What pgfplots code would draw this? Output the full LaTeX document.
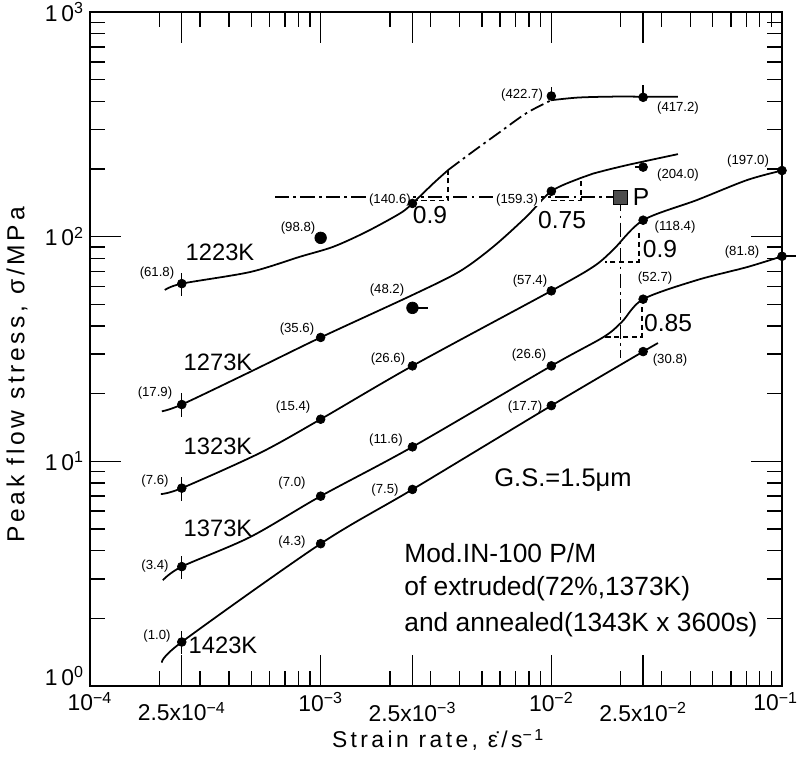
\documentclass[border=0pt]{standalone}
\usepackage{fontspec}
\setmainfont{Liberation Sans}
\newfontfamily\spaced[LetterSpace=15]{Liberation Sans}
\usepackage{pgfplots}
\pgfplotsset{compat=1.18}
\tikzset{
  val/.style={font=\fontsize{7.5}{9}\selectfont, inner sep=0pt},
  temp/.style={font=\fontsize{13.5}{16}\selectfont, inner sep=0pt},
  slope/.style={font=\fontsize{14}{16}\selectfont, inner sep=0pt},
  note/.style={font=\fontsize{15}{18}\selectfont, inner sep=0pt, anchor=west},
}
\begin{document}
\begin{tikzpicture}
\begin{axis}[
  xmode=log, ymode=log,
  scale only axis, width=13.84cm, height=13.48cm,
  at={(0,0)}, anchor=south west,
  xmin=1e-4, xmax=1e-1, ymin=1, ymax=1000,
  clip=false,
  axis line style={line width=1.3pt},
  every tick/.style={black, line width=0.8pt},
  major tick length=0.62cm, minor tick length=0.3cm,
  xtick={1e-4,1e-3,1e-2,1e-1},
  xticklabels={10\textsuperscript{−4},10\textsuperscript{−3},10\textsuperscript{−2},\hspace*{-0.25cm}10\textsuperscript{−1}},
  extra x ticks={2.5e-4,2.5e-3,2.5e-2},
  extra x tick labels={2.5x10\textsuperscript{−4},2.5x10\textsuperscript{−3},2.5x10\textsuperscript{−2}},
  extra x tick style={tick label style={yshift=-0.2cm}},
  ytick={1,10,100,1000},
  yticklabels={,1\,0\textsuperscript{1},1\,0\textsuperscript{2},1\,0\textsuperscript{3}},
  extra y ticks={1},
  extra y tick labels={1\,0\textsuperscript{0}},
  extra y tick style={tick label style={yshift=0.2cm}},
  tick label style={font=\fontsize{13}{15}\selectfont},
  xlabel={Strain rate, ε̇/s\textsuperscript{−1}},
  ylabel={Peak flow stress, σ/MPa},
  xlabel style={at={(axis description cs:0.503,-0.080)}, anchor=center, font=\spaced\fontsize{13}{15}\selectfont},
  ylabel style={at={(axis description cs:-0.1055,0.4614)}, anchor=center, font=\spaced\fontsize{14}{16}\selectfont},
]
% curves
\addplot[black, line width=1pt, smooth, tension=0.5] coordinates {
  (2.11e-4,57.9) (2.5e-4,61.8) (4.94e-4,69.6) (8.13e-4,81.4) (1.135e-3,90.2) (1.58e-3,105.2) (2.21e-3,127) (2.5e-3,140.6) (3.08e-3,172.7) (3.57e-3,198)};
\addplot[black, line width=1pt, smooth, tension=0.5, dash pattern=on 8pt off 2.5pt on 1.5pt off 2.5pt] coordinates {
  (3.57e-3,198) (4.59e-3,240) (5.98e-3,292) (7.81e-3,355) (1e-2,405)};
\addplot[black, line width=1pt, smooth, tension=0.5] coordinates {
  (1e-2,405) (1.3e-2,416) (1.8e-2,420) (2.5e-2,420) (3.54e-2,420)};
\addplot[black, line width=1pt, smooth, tension=0.5] coordinates {
  (2.05e-4,16.7) (2.5e-4,17.9) (4.94e-4,25.0) (1e-3,35.6) (2.5e-3,55) (4e-3,70) (5.6e-3,90.2) (7.8e-3,122.7) (1e-2,159.3) (1.33e-2,182) (1.52e-2,191) (2.12e-2,208) (3.54e-2,233)};
\addplot[black, line width=1pt, smooth, tension=0.5] coordinates {
  (2.03e-4,7.15) (2.5e-4,7.6) (5.46e-4,10.9) (1e-3,15.4) (2.5e-3,26.6) (1e-2,57.4) (1.52e-2,73.5) (1.85e-2,87.2) (2.5e-2,118.4) (4.28e-2,145.6) (7.05e-2,178.6) (0.1,197)};
\addplot[black, line width=1pt, smooth, tension=0.5] coordinates {
  (2.07e-4,2.96) (2.5e-4,3.4) (4.94e-4,4.6) (1e-3,7.0) (2.5e-3,11.6) (1e-2,26.6) (1.68e-2,35.7) (2.02e-2,41.7) (2.5e-2,52.7) (4.28e-2,64.1) (7.05e-2,73.2) (0.1,81.8)};
\addplot[black, line width=1pt, smooth, tension=0.5] coordinates {
  (2.05e-4,1.27) (2.5e-4,1.57) (1e-3,4.3) (2.5e-3,7.5) (1e-2,17.7) (2.5e-2,30.8) (2.9e-2,33.6)};
% guide lines
\addplot[black, line width=0.8pt, dash pattern=on 8pt off 2.5pt on 1.5pt off 2.5pt] coordinates {(6.34e-4,150) (2e-2,150)};
\addplot[black, line width=0.8pt, dash pattern=on 8pt off 2.5pt on 1.5pt off 2.5pt] coordinates {(2e-2,150) (2e-2,28.8)};
\addplot[black, line width=0.8pt, densely dashed] coordinates {(2.5e-3,145) (3.57e-3,145) (3.57e-3,198)};
\addplot[black, line width=0.8pt, densely dashed] coordinates {(1e-2,145) (1.343e-2,145) (1.343e-2,180)};
\addplot[black, line width=0.8pt, densely dashed] coordinates {(0.024,103.8) (0.024,77.1) (0.01706,77.1)};
\addplot[black, line width=0.8pt, densely dashed] coordinates {(0.0247,48.6) (0.0247,35.7) (0.01676,35.7)};
% short tails
\addplot[black, line width=0.9pt] coordinates {(2.5e-3,48.2) (2.92e-3,48.2)};
\addplot[black, line width=0.9pt] coordinates {(2.3e-2,204.0) (2.5e-2,204.0)};
\addplot[black, line width=0.9pt] coordinates {(0.1,81.8) (0.115,81.8)};
% points
\addplot[only marks, mark=*, mark size=2.5pt, black,
  error bars/.cd, y dir=both, y explicit relative, error mark=none,
  error bar style={line width=0.8pt}] coordinates {
  (2.5e-4,61.8) +- (0,0.12) (2.5e-4,17.9) +- (0,0.12) (2.5e-4,7.6) +- (0,0.12)
  (2.5e-4,3.4) +- (0,0.12) (2.5e-4,1.57) +- (0,0.12)};
\addplot[only marks, mark=*, mark size=2.5pt, black,
  error bars/.cd, y dir=plus, y explicit relative, error mark=none,
  error bar style={line width=0.8pt}] coordinates {
  (1e-2,422.7) +- (0,0.1) (2.5e-2,417.2) +- (0,0.14)};
\addplot[only marks, mark=*, mark size=2.5pt, black] coordinates {
  (2.5e-3,140.6) (1e-2,159.3) (2.5e-2,204.0) (1e-3,35.6)
  (1e-3,15.4) (2.5e-3,26.6) (1e-2,57.4) (2.5e-2,118.4) (0.1,197.0)
  (1e-3,7.0) (2.5e-3,11.6) (1e-2,26.6) (2.5e-2,52.7) (0.1,81.8)
  (1e-3,4.3) (2.5e-3,7.5) (1e-2,17.7) (2.5e-2,30.8)};
\addplot[only marks, mark=*, mark size=3.3pt, black] coordinates {(1e-3,98.8) (2.5e-3,48.2)};
\addplot[only marks, mark=square*, mark size=4pt, mark options={fill=black!70, draw=black}] coordinates {(2e-2,150)};
% value labels
\node[val] at (rel axis cs:0.0968,0.6128) {(61.8)};
\node[val] at (rel axis cs:0.3006,0.6795) {(98.8)};
\node[val, fill=white, inner xsep=1.5pt] at (rel axis cs:0.4335,0.7211) {(140.6)};
\node[val] at (rel axis cs:0.6243,0.8769) {(422.7)};
\node[val] at (rel axis cs:0.8497,0.8576) {(417.2)};
\node[val, fill=white, inner xsep=1.5pt] at (rel axis cs:0.6171,0.7211) {(159.3)};
\node[val] at (rel axis cs:0.8497,0.7582) {(204.0)};
\node[val] at (rel axis cs:0.9509,0.7789) {(197.0)};
\node[val] at (rel axis cs:0.8454,0.6810) {(118.4)};
\node[val] at (rel axis cs:0.9422,0.6439) {(81.8)};
\node[val] at (rel axis cs:0.8165,0.6053) {(52.7)};
\node[val] at (rel axis cs:0.6358,0.6009) {(57.4)};
\node[val] at (rel axis cs:0.4292,0.5875) {(48.2)};
\node[val] at (rel axis cs:0.2991,0.5297) {(35.6)};
\node[val] at (rel axis cs:0.4306,0.4852) {(26.6)};
\node[val] at (rel axis cs:0.0939,0.4347) {(17.9)};
\node[val] at (rel axis cs:0.2934,0.4139) {(15.4)};
\node[val] at (rel axis cs:0.4277,0.3650) {(11.6)};
\node[val] at (rel axis cs:0.0939,0.3042) {(7.6)};
\node[val] at (rel axis cs:0.2919,0.3012) {(7.0)};
\node[val] at (rel axis cs:0.4263,0.2908) {(7.5)};
\node[val] at (rel axis cs:0.2919,0.2136) {(4.3)};
\node[val] at (rel axis cs:0.0939,0.1780) {(3.4)};
\node[val] at (rel axis cs:0.6344,0.4911) {(26.6)};
\node[val] at (rel axis cs:0.6286,0.4139) {(17.7)};
\node[val] at (rel axis cs:0.8382,0.4837) {(30.8)};
\node[val] at (rel axis cs:0.0968,0.0742) {(1.0)};
% temperature labels
\node[temp] at (rel axis cs:0.1879,0.6439) {1223K};
\node[temp] at (rel axis cs:0.1850,0.4807) {1273K};
\node[temp] at (rel axis cs:0.1850,0.3561) {1323K};
\node[temp] at (rel axis cs:0.1850,0.2344) {1373K};
\node[temp] at (rel axis cs:0.1922,0.0608) {1423K};
% slopes
\node[slope] at (rel axis cs:0.4913,0.6990) {0.9};
\node[slope] at (rel axis cs:0.6821,0.6914) {0.75};
\node[slope] at (rel axis cs:0.8237,0.6484) {0.9};
\node[slope] at (rel axis cs:0.8353,0.5386) {0.85};
\node[slope] at (rel axis cs:0.7962,0.7255) {P};
% notes
\node[font=\fontsize{14.5}{17}\selectfont, inner sep=0pt] at (rel axis cs:0.6835,0.3056) {G.S.=1.5μm};
\node[note] at (rel axis cs:0.4538,0.1973) {Mod.IN-100 P/M};
\node[note] at (rel axis cs:0.4538,0.1439) {of extruded(72\%,1373K)};
\node[note] at (rel axis cs:0.4538,0.0905) {and annealed(1343K x 3600s)};
\end{axis}
\pgfresetboundingbox
\path (-1.8cm,-1.42cm) rectangle (14.2cm,13.72cm);
\end{tikzpicture}
\end{document}
